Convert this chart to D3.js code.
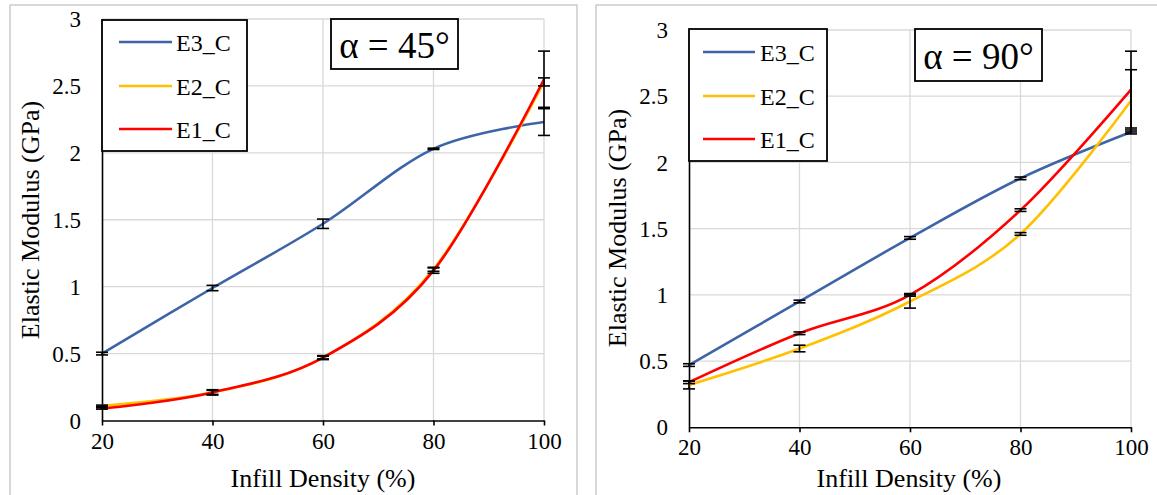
<!DOCTYPE html>
<html>
<head>
<meta charset="utf-8">
<script src="https://cdn.jsdelivr.net/npm/d3@7"></script>
<style>
  body { margin: 0; background: #fff; }
  svg { display: block; }
  text { font-family: "Liberation Serif", "Times New Roman", Times, serif; }
</style>
</head>
<body>
<svg id="chart" width="1157" height="495"></svg>
<script>
const FONT = '"Liberation Serif", "Times New Roman", Times, serif';

// categories and ticks
const densities = [20, 40, 60, 80, 100];
const yTicks = [0, 0.5, 1, 1.5, 2, 2.5, 3];
const seriesNames = ['E3_C', 'E2_C', 'E1_C'];
const seriesColors = ['#3e64a8', '#ffc000', '#ff0000'];

// alpha = 45 deg
const e3_45 = [0.50, 0.99, 1.47, 2.03, 2.23];
const e2_45 = [0.11, 0.21, 0.47, 1.13, 2.53];
const e1_45 = [0.09, 0.21, 0.47, 1.12, 2.55];
const e3_45_err = [0.01, 0.02, 0.035, 0.005, 0.1];
const e2_45_err = [0.005, 0.015, 0.01, 0.015, 0.03];
const e1_45_err = [0.005, 0.02, 0.015, 0.02, 0.21];

// alpha = 90 deg
const e3_90 = [0.47, 0.95, 1.43, 1.88, 2.23];
const e2_90 = [0.32, 0.595, 0.95, 1.46, 2.465];
const e1_90 = [0.34, 0.71, 1.0, 1.64, 2.55];
const e3_90_err = [0.01, 0.01, 0.01, 0.01, 0.015];
const e2_90_err = [0.03, 0.025, 0.05, 0.01, 0.235];
const e1_90_err = [0.01, 0.01, 0.01, 0.01, 0.29];

const svg = d3.select('#chart').attr('font-family', FONT);

function drawPanel(cfg) {
  const g = svg.append('g');

  // panel frame
  g.append('rect')
    .attr('x', cfg.frame[0]).attr('y', cfg.frame[1])
    .attr('width', cfg.frame[2]).attr('height', cfg.frame[3])
    .attr('fill', 'none').attr('stroke', '#bfbfbf').attr('stroke-width', 1.2);

  const x = d3.scaleLinear().domain([20, 100]).range(cfg.xRange);
  const y = d3.scaleLinear().domain([0, 3]).range(cfg.yRange);

  // gridlines
  g.append('g').selectAll('line').data(yTicks.slice(1)).join('line')
    .attr('x1', x(20)).attr('x2', x(100))
    .attr('y1', d => y(d)).attr('y2', d => y(d))
    .attr('stroke', '#d9d9d9').attr('stroke-width', 1.3);
  g.append('g').selectAll('line').data(densities.slice(1)).join('line')
    .attr('x1', d => x(d)).attr('x2', d => x(d))
    .attr('y1', y(0)).attr('y2', y(3))
    .attr('stroke', '#d9d9d9').attr('stroke-width', 1.3);

  // axes
  const xAxis = g.append('g')
    .attr('transform', `translate(0,${y(0)})`)
    .call(d3.axisBottom(x).tickValues(densities).tickSize(5).tickSizeOuter(0).tickFormat(d3.format('d')))
    .attr('font-family', FONT).attr('font-size', 23);
  xAxis.select('.domain').attr('stroke', '#000').attr('stroke-width', 1.6);
  xAxis.selectAll('.tick line').attr('stroke', '#000').attr('stroke-width', 1.6);
  xAxis.selectAll('.tick text')
    .attr('y', cfg.xLabelDy).attr('dy', 0)
    .attr('fill', '#000');

  const yAxis = g.append('g')
    .attr('transform', `translate(${x(20)},0)`)
    .call(d3.axisLeft(y).tickValues(yTicks).tickSize(0).tickPadding(21).tickFormat(d => d))
    .attr('font-family', FONT).attr('font-size', 23);
  yAxis.select('.domain').attr('stroke', '#000').attr('stroke-width', 1.6);
  yAxis.selectAll('.tick text')
    .attr('dy', '0.33em')
    .attr('fill', '#000');

  // axis titles
  g.append('text')
    .attr('x', cfg.xTitle[0]).attr('y', cfg.xTitle[1])
    .attr('text-anchor', 'middle').attr('font-size', 26)
    .text('Infill Density (%)');
  g.append('text')
    .attr('transform', `translate(${cfg.yTitle[0]},${cfg.yTitle[1]}) rotate(-90)`)
    .attr('text-anchor', 'middle').attr('font-size', 26)
    .text('Elastic Modulus (GPa)');

  // lines
  const line = d3.line()
    .x((d, i) => x(densities[i]))
    .y(d => y(d))
    .curve(d3.curveCardinal.tension(0));
  cfg.values.forEach((vals, k) => {
    g.append('path')
      .attr('d', line(vals))
      .attr('fill', 'none')
      .attr('stroke', seriesColors[k])
      .attr('stroke-width', 2.6);
  });

  // error bars
  cfg.values.forEach((vals, k) => {
    const eg = g.append('g').attr('stroke', '#000').attr('stroke-width', 1.6);
    vals.forEach((v, i) => {
      const e = cfg.errors[k][i];
      const cx = x(densities[i]);
      eg.append('line').attr('x1', cx).attr('x2', cx).attr('y1', y(v - e)).attr('y2', y(v + e));
      [v - e, v + e].forEach(w => {
        eg.append('line').attr('x1', cx - 6).attr('x2', cx + 6).attr('y1', y(w)).attr('y2', y(w));
      });
    });
  });

  // legend
  const lg = cfg.legend;
  g.append('rect')
    .attr('x', lg.x).attr('y', lg.y).attr('width', lg.w).attr('height', lg.h)
    .attr('fill', '#fff').attr('stroke', '#000').attr('stroke-width', 1.8);
  seriesNames.forEach((name, k) => {
    const ry = lg.rows[k];
    g.append('line')
      .attr('x1', lg.lx1).attr('x2', lg.lx2).attr('y1', ry).attr('y2', ry)
      .attr('stroke', seriesColors[k]).attr('stroke-width', 2.6);
    g.append('text')
      .attr('x', lg.tx).attr('y', ry + 8.5)
      .attr('font-size', 24)
      .text(name);
  });

  // angle label
  const ab = cfg.angleBox;
  g.append('rect')
    .attr('x', ab.x).attr('y', ab.y).attr('width', ab.w).attr('height', ab.h)
    .attr('fill', '#fff').attr('stroke', '#000').attr('stroke-width', 1.8);
  g.append('text')
    .attr('x', ab.x + ab.w / 2).attr('y', ab.base)
    .attr('text-anchor', 'middle')
    .attr('font-size', ab.size)
    .text(cfg.angle);
}

drawPanel({
  frame: [10, 5, 567, 500],
  xRange: [102, 544],
  yRange: [420.5, 19],
  xLabelDy: 28,
  xTitle: [323, 487],
  yTitle: [39, 220],
  values: [e3_45, e2_45, e1_45],
  errors: [e3_45_err, e2_45_err, e1_45_err],
  legend: { x: 102, y: 20, w: 145, h: 131, lx1: 119, lx2: 172, tx: 176, rows: [42, 86, 129] },
  angleBox: { x: 331, y: 19, w: 127, h: 50, base: 58, size: 37 },
  angle: 'α = 45°'
});

drawPanel({
  frame: [596, 5, 570, 500],
  xRange: [689, 1131],
  yRange: [427.3, 30],
  xLabelDy: 28,
  xTitle: [909, 487],
  yTitle: [626, 228],
  values: [e3_90, e2_90, e1_90],
  errors: [e3_90_err, e2_90_err, e1_90_err],
  legend: { x: 689, y: 29, w: 138, h: 132, lx1: 703, lx2: 755, tx: 760, rows: [52, 96, 139] },
  angleBox: { x: 915, y: 29, w: 127, h: 52, base: 69, size: 37 },
  angle: 'α = 90°'
});
</script>
</body>
</html>
